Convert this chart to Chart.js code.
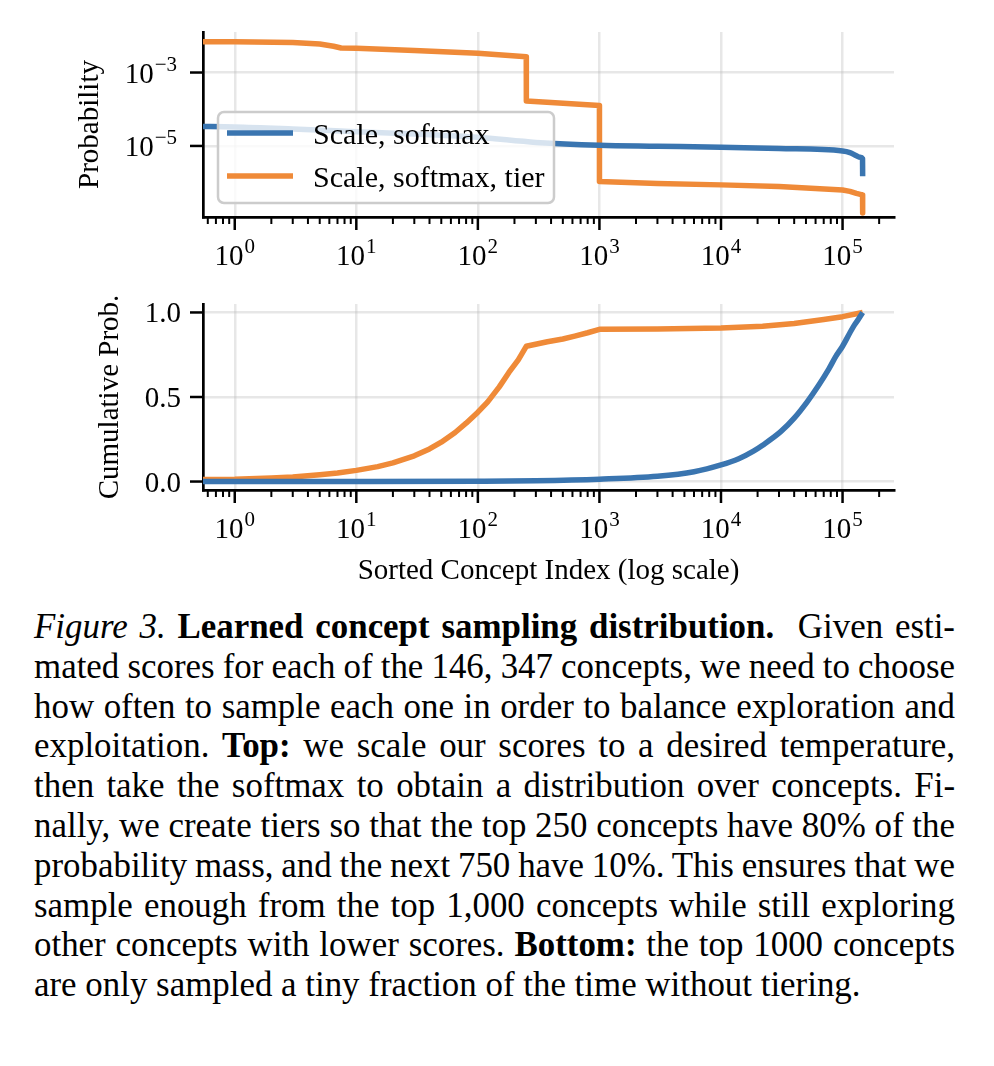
<!DOCTYPE html>
<html>
<head>
<meta charset="utf-8">
<title>Learned concept sampling distribution</title>
<script src="https://cdn.jsdelivr.net/npm/chart.js@4.4.0/dist/chart.umd.min.js"></script>
<style>
  html, body { margin: 0; padding: 0; background: #fff; }
  body { width: 994px; height: 1066px; position: relative; overflow: hidden; }
  #probChart { position: absolute; left: 0; top: 0; }
  #cumChart { position: absolute; left: 0; top: 280px; }
  #caption {
    position: absolute; left: 34px; top: 607px; width: 921px;
    font-family: 'Liberation Serif', 'Times New Roman', serif;
    font-size: 34.9px; line-height: 39.8px; color: #000;
  }
  #caption div { text-align: justify; text-align-last: justify; }
  #caption div.last { text-align-last: left; }
</style>
</head>
<body>
<canvas id="probChart" width="994" height="290"></canvas>
<canvas id="cumChart" width="994" height="320"></canvas>

<div id="caption">
  <div><i>Figure 3.</i> <b>Learned concept sampling distribution.</b>&nbsp; Given esti-</div>
  <div>mated scores for each of the 146, 347 concepts, we need to choose</div>
  <div>how often to sample each one in order to balance exploration and</div>
  <div>exploitation. <b>Top:</b> we scale our scores to a desired temperature,</div>
  <div>then take the softmax to obtain a distribution over concepts. Fi-</div>
  <div>nally, we create tiers so that the top 250 concepts have 80% of the</div>
  <div>probability mass, and the next 750 have 10%. This ensures that we</div>
  <div>sample enough from the top 1,000 concepts while still exploring</div>
  <div>other concepts with lower scores. <b>Bottom:</b> the top 1000 concepts</div>
  <div class="last">are only sampled a tiny fraction of the time without tiering.</div>
</div>

<script>
// --- data ---
const seriesLabels = ['Scale, softmax', 'Scale, softmax, tier'];

// top panel: probability per sorted concept
const probIdxSoftmax = [0.5, 1, 3, 10, 30, 100, 300, 1000, 3000, 10000, 30000, 100000, 115000, 130000, 140000, 146000, 146347];
const probSoftmax    = [3.4e-5, 3.3e-5, 2.9e-5, 2.45e-5, 2.1e-5, 1.72e-5, 1.25e-5, 1.04e-5, 9.8e-6, 9.2e-6, 8.5e-6, 7.3e-6, 6.6e-6, 5.4e-6, 4.9e-6, 4.5e-6, 1.5e-6];

const probIdxTier = [0.5, 1, 3, 5, 6.5, 7.5, 10, 30, 100, 250, 250.5, 400, 1000, 1000.5, 3000, 10000, 30000, 100000, 115000, 130000, 140000, 146000, 146347];
const probTier    = [6.9e-3, 6.9e-3, 6.6e-3, 6.0e-3, 5.2e-3, 4.66e-3, 4.55e-3, 3.98e-3, 3.33e-3, 2.69e-3, 1.67e-4, 1.52e-4, 1.26e-4, 1.07e-6, 9.5e-7, 8.7e-7, 7.8e-7, 6.3e-7, 5.8e-7, 5.1e-7, 4.8e-7, 4.6e-7, 1.5e-7];

// bottom panel: cumulative probability
const cumIdxSoftmax = [0.5, 1, 10, 100, 300, 1000, 3000, 6000, 10000, 14000, 18500, 22000, 31000, 40000, 51000, 63000, 77000, 88000, 100000, 115000, 125000, 135000, 146347];
const cumSoftmax    = [0, 0.00003, 0.0003, 0.002, 0.005, 0.014, 0.031, 0.058, 0.098, 0.135, 0.18, 0.215, 0.295, 0.375, 0.47, 0.565, 0.665, 0.74, 0.80, 0.88, 0.925, 0.96, 1.0];

const cumIdxTier = [0.5, 1, 2, 3, 5, 7, 10, 15, 20, 30, 40, 50, 65, 80, 100, 120, 150, 180, 215, 250, 373, 500, 626, 800, 1000, 3000, 10000, 22000, 40000, 70000, 100000, 146347];
const cumTier    = [0.012, 0.014, 0.021, 0.027, 0.04, 0.05, 0.066, 0.088, 0.11, 0.152, 0.193, 0.233, 0.29, 0.345, 0.41, 0.47, 0.56, 0.645, 0.72, 0.8, 0.827, 0.843, 0.86, 0.88, 0.9, 0.902, 0.908, 0.918, 0.935, 0.958, 0.975, 1.0];

// ticks
const indexTicks = [1, 10, 100, 1000, 10000, 100000];
const indexTickExps = ['0', '1', '2', '3', '4', '5'];
const probTicks = [1e-5, 1e-3];
const probTickExps = ['\u22125', '\u22123'];
const cumTicks = [0, 0.5, 1.0];
const cumTickLabels = ['0.0', '0.5', '1.0'];

const X_MIN = 0.548, X_MAX = 2.65e5;

// minor ticks on the index axis (2..9 times each decade)
const indexMinorTicks = [];
for (let d = 0.1; d <= 1e5; d *= 10) {
    for (let m = 2; m <= 9; m++) {
        const v = m * d;
        if (v > X_MIN && v < X_MAX) indexMinorTicks.push(v);
    }
}

const BLUE = '#3a75b0';
const ORANGE = '#ef8a38';
const GRID = 'rgba(176,176,176,0.3)';
const SERIF = "'Liberation Serif', 'Times New Roman', serif";
const TICK_FONT = '29px ' + SERIF;
const SUP_FONT = '21px ' + SERIF;

function series(label, xs, ys, color, smooth) {
    return {
        label: label,
        data: xs.map((x, i) => ({ x: x, y: ys[i] })),
        borderColor: color,
        backgroundColor: color,
        borderWidth: 5.5,
        pointRadius: 0,
        tension: smooth ? 0.4 : 0,
        cubicInterpolationMode: smooth ? 'monotone' : 'default',
        fill: false,
        clip: 0,
        borderJoinStyle: 'round'
    };
}

// "10" with a raised exponent
function drawPow(ctx, exp, x, y, align) {
    ctx.font = TICK_FONT;
    const wb = ctx.measureText('10').width;
    ctx.font = SUP_FONT;
    const we = ctx.measureText(exp).width;
    const total = wb + 1 + we;
    const x0 = align === 'center' ? x - total / 2 : x - total;
    ctx.textAlign = 'left';
    ctx.textBaseline = 'alphabetic';
    ctx.font = TICK_FONT;
    ctx.fillText('10', x0, y);
    ctx.font = SUP_FONT;
    ctx.fillText(exp, x0 + wb + 1, y - 12);
}

function tick(ctx, x1, y1, x2, y2) {
    ctx.beginPath();
    ctx.moveTo(x1, y1);
    ctx.lineTo(x2, y2);
    ctx.stroke();
}

// matplotlib-like ticks and labels, placed through the chart's scales
const axisDecor = {
    id: 'axisDecor',
    afterDraw(chart, args, opts) {
        const ctx = chart.ctx;
        const xs = chart.scales.x, ys = chart.scales.y;
        const area = chart.chartArea;
        ctx.save();
        ctx.strokeStyle = '#000';
        ctx.fillStyle = '#000';

        ctx.lineWidth = 2.5;
        indexTicks.forEach((v, i) => {
            const px = xs.getPixelForValue(v);
            tick(ctx, px, area.bottom, px, area.bottom + 13);
            drawPow(ctx, indexTickExps[i], px, area.bottom + 48, 'center');
        });
        ctx.lineWidth = 2;
        indexMinorTicks.forEach(v => {
            const px = xs.getPixelForValue(v);
            tick(ctx, px, area.bottom, px, area.bottom + 7);
        });

        ctx.lineWidth = 2.5;
        opts.yTicks.forEach((v, i) => {
            const py = ys.getPixelForValue(v);
            tick(ctx, area.left - 13, py, area.left, py);
            if (opts.yPow) {
                drawPow(ctx, opts.yLabels[i], area.left - 26, py + 10.5, 'right');
            } else {
                ctx.font = TICK_FONT;
                ctx.textAlign = 'right';
                ctx.textBaseline = 'alphabetic';
                ctx.fillText(opts.yLabels[i], area.left - 22, py + 10);
            }
        });
        ctx.restore();
    }
};

// legend box inside the top panel
const legendBox = {
    id: 'legendBox',
    afterDatasetsDraw(chart) {
        const ctx = chart.ctx;
        ctx.save();
        ctx.beginPath();
        ctx.roundRect(218, 112, 336, 91, 6);
        ctx.fillStyle = 'rgba(255,255,255,0.8)';
        ctx.fill();
        ctx.lineWidth = 2.5;
        ctx.strokeStyle = '#cccccc';
        ctx.stroke();
        chart.data.datasets.forEach((ds, i) => {
            const y = 133 + i * 43;
            ctx.strokeStyle = ds.borderColor;
            ctx.lineWidth = 5.5;
            tick(ctx, 227, y, 293, y);
            ctx.fillStyle = '#000';
            ctx.font = '30px ' + SERIF;
            ctx.textAlign = 'left';
            ctx.textBaseline = 'alphabetic';
            ctx.fillText(ds.label, 313, y + 11);
        });
        ctx.restore();
    }
};

function xAxis(height, title) {
    return {
        type: 'logarithmic',
        min: X_MIN,
        max: X_MAX,
        afterBuildTicks: s => { s.ticks = indexTicks.map(v => ({ value: v })); },
        afterFit: s => { s.height = height; },
        ticks: { display: false },
        grid: { color: GRID, lineWidth: 2.5, drawTicks: false },
        border: { color: '#000', width: 2.7 },
        title: title
    };
}

function yTitle(text, pad) {
    return { display: true, text: text, color: '#000', font: { family: SERIF, size: 29 }, padding: { top: pad, bottom: 0 } };
}

new Chart(document.getElementById('probChart'), {
    type: 'line',
    data: {
        datasets: [
            series(seriesLabels[0], probIdxSoftmax, probSoftmax, BLUE, true),
            series(seriesLabels[1], probIdxTier, probTier, ORANGE, false)
        ]
    },
    options: {
        responsive: false,
        animation: false,
        layout: { padding: { left: 0, right: 100, top: 32, bottom: 0 } },
        plugins: {
            legend: { display: false },
            tooltip: { enabled: false },
            axisDecor: { yTicks: probTicks, yLabels: probTickExps, yPow: true }
        },
        scales: {
            x: xAxis(73, { display: false }),
            y: {
                type: 'logarithmic',
                min: 1.16e-7,
                max: 1.27e-2,
                afterBuildTicks: s => { s.ticks = probTicks.map(v => ({ value: v })); },
                afterFit: s => { s.width = 203; },
                ticks: { display: false },
                grid: { color: GRID, lineWidth: 2.5, drawTicks: false },
                border: { color: '#000', width: 2.7 },
                title: yTitle('Probability', 72.6)
            }
        }
    },
    plugins: [axisDecor, legendBox]
});

new Chart(document.getElementById('cumChart'), {
    type: 'line',
    data: {
        datasets: [
            series(seriesLabels[0], cumIdxSoftmax, cumSoftmax, BLUE, true),
            series(seriesLabels[1], cumIdxTier, cumTier, ORANGE, false)
        ]
    },
    options: {
        responsive: false,
        animation: false,
        layout: { padding: { left: 0, right: 100, top: 24, bottom: 0 } },
        plugins: {
            legend: { display: false },
            tooltip: { enabled: false },
            axisDecor: { yTicks: cumTicks, yLabels: cumTickLabels, yPow: false }
        },
        scales: {
            x: xAxis(110, {
                display: true,
                text: 'Sorted Concept Index (log scale)',
                color: '#000',
                font: { family: SERIF, size: 29 },
                padding: { top: 0, bottom: 11.6 }
            }),
            y: {
                type: 'linear',
                min: -0.05,
                max: 1.05,
                afterBuildTicks: s => { s.ticks = cumTicks.map(v => ({ value: v })); },
                afterFit: s => { s.width = 203; },
                ticks: { display: false },
                grid: { color: GRID, lineWidth: 2.5, drawTicks: false },
                border: { color: '#000', width: 2.7 },
                title: yTitle('Cumulative Prob.', 92.6)
            }
        }
    },
    plugins: [axisDecor]
});

// keep each caption line on one line: tighten word spacing if a line is too long
document.querySelectorAll('#caption div').forEach(line => {
    const full = 921;
    line.style.whiteSpace = 'nowrap';
    line.style.display = 'inline-block';
    const w = line.getBoundingClientRect().width;
    const gaps = (line.textContent.trim().match(/\s+/g) || []).length;
    if (w > full && gaps) line.style.wordSpacing = ((full - w) / gaps - 0.5) + 'px';
    line.style.whiteSpace = '';
    line.style.display = '';
});
</script>
</body>
</html>
